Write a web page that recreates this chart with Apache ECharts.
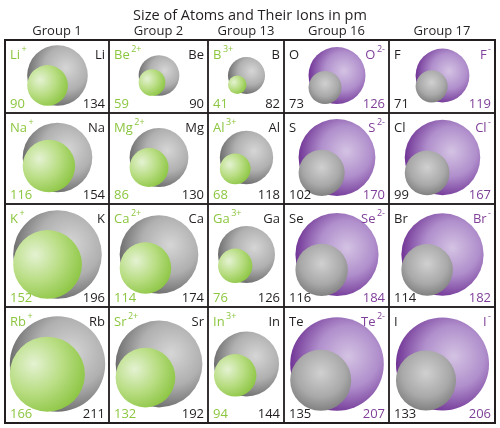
<!DOCTYPE html>
<html>
<head>
<meta charset="utf-8">
<script src="https://cdn.jsdelivr.net/npm/echarts@6/dist/echarts.min.js"></script>
<style>
html, body { margin: 0; padding: 0; background: #fff; }
#chart { width: 500px; height: 428px; }
</style>
</head>
<body>
<div id="chart"></div>
<script>
// data
var groups = ['Group 1', 'Group 2', 'Group 13', 'Group 16', 'Group 17'];
var atomSymbols = [
	['Li', 'Be', 'B', 'O', 'F'],
	['Na', 'Mg', 'Al', 'S', 'Cl'],
	['K', 'Ca', 'Ga', 'Se', 'Br'],
	['Rb', 'Sr', 'In', 'Te', 'I']
];
var atomRadii = [
	[134, 90, 82, 73, 71],
	[154, 130, 118, 102, 99],
	[196, 174, 126, 116, 114],
	[211, 192, 144, 135, 133]
];
var ionCharges = ['+', '2+', '3+', '2-', '-'];
var ionRadii = [
	[90, 59, 41, 126, 119],
	[116, 86, 68, 170, 167],
	[152, 114, 76, 184, 182],
	[166, 132, 94, 207, 206]
];

// layout (pixels)
var PX_PER_PM = 0.226;
var colPx = [104, 99, 76, 105, 106];
var rowPx = [73, 91, 103, 116];
var FONT = '"Open Sans", "DejaVu Sans", sans-serif';
var BLACK = '#231f20', GREEN = '#8cc63f', PURPLE = '#7f3f98';

function sum(a) { return a.reduce(function (s, v) { return s + v; }, 0); }
var totalW = sum(colPx) / PX_PER_PM, totalH = sum(rowPx) / PX_PER_PM;

var measureCtx = document.createElement('canvas').getContext('2d');
function textWidth(str, size) {
	measureCtx.font = size + 'px ' + FONT;
	return measureCtx.measureText(str).width;
}

// cells: [x0, y0, x1, y1, row, col] in pm units
var cells = [];
var y0 = 0;
for (var r = 0; r < rowPx.length; r++) {
	var x0 = 0;
	var h = rowPx[r] / PX_PER_PM;
	for (var c = 0; c < colPx.length; c++) {
		var w = colPx[c] / PX_PER_PM;
		cells.push([x0, y0, x0 + w, y0 + h, r, c]);
		x0 += w;
	}
	y0 += h;
}

function gradGrayBig() {
	return new echarts.graphic.RadialGradient(0.64, 0.38, 0.66, [
		{ offset: 0, color: '#d6d6d6' }, { offset: 0.55, color: '#b0b0b0' }, { offset: 1, color: '#6a6a6a' }]);
}
function gradGraySmall() {
	return new echarts.graphic.RadialGradient(0.5, 0.38, 0.66, [
		{ offset: 0, color: '#d0d0d0' }, { offset: 0.6, color: '#a9a9a9' }, { offset: 1, color: '#7a7a7a' }]);
}
function gradGreen() {
	return new echarts.graphic.RadialGradient(0.32, 0.36, 0.78, [
		{ offset: 0, color: '#e4f2d2' }, { offset: 0.5, color: '#b8dd82' }, { offset: 1, color: '#86c23a' }]);
}
function gradPurple() {
	return new echarts.graphic.RadialGradient(0.62, 0.42, 0.66, [
		{ offset: 0, color: '#d4c3e3' }, { offset: 0.5, color: '#b08fcc' }, { offset: 1, color: '#68288e' }]);
}

function label(base, sup, x, y, color, alignRight) {
	var bw = textWidth(base, 13), sw = sup ? textWidth(sup, 9) : 0;
	var bx = alignRight ? x - (sup ? sw + 1.5 : 0) - bw : x;
	var out = [{
		type: 'text',
		style: { text: base, x: bx, y: y, fill: color, font: '13px ' + FONT, textAlign: 'left', textVerticalAlign: 'middle' }
	}];
	if (sup) {
		out.push({
			type: 'text',
			style: { text: sup, x: bx + bw + 1.5, y: y - 6, fill: color, font: '9px ' + FONT, textAlign: 'left', textVerticalAlign: 'middle' }
		});
	}
	return out;
}

function renderCell(params, api) {
	var p0 = api.coord([api.value(0), api.value(1)]);
	var p1 = api.coord([api.value(2), api.value(3)]);
	var row = api.value(4), col = api.value(5);
	var atomR = atomRadii[row][col], ionR = ionRadii[row][col];
	var atomPx = api.size([atomR, 0])[0], ionPx = api.size([ionR, 0])[0];
	var ionBigger = ionR > atomR;
	var bigR = Math.max(atomPx, ionPx), smallR = Math.min(atomPx, ionPx);
	var cx = (p0[0] + p1[0]) / 2 + 0.5, cy = (p0[1] + p1[1]) / 2 - 1;
	var d = bigR - smallR;

	var children = [{
		type: 'rect',
		shape: { x: p0[0], y: p0[1], width: p1[0] - p0[0], height: p1[1] - p0[1] },
		style: { fill: 'none', stroke: BLACK, lineWidth: 1.4 }
	}, {
		type: 'circle',
		shape: { cx: cx, cy: cy, r: bigR },
		style: { fill: ionBigger ? gradPurple() : gradGrayBig() }
	}, {
		type: 'circle',
		shape: { cx: cx - d, cy: cy + d, r: smallR },
		style: { fill: ionBigger ? gradGraySmall() : gradGreen() }
	}];

	var atomSym = atomSymbols[row][col], charge = ionCharges[col];
	var topY = p0[1] + 15, botY = p1[1] - 9;
	var lx = p0[0] + 5, rx = p1[0] - 4;
	// smaller particle labelled on the left, larger on the right
	var leftTop = ionBigger ? label(atomSym, null, lx, topY, BLACK, false) : label(atomSym, charge, lx, topY, GREEN, false);
	var rightTop = ionBigger ? label(atomSym, charge, rx, topY, PURPLE, true) : label(atomSym, null, rx, topY, BLACK, true);
	children = children.concat(leftTop, rightTop);
	children.push({
		type: 'text',
		style: { text: String(ionBigger ? atomR : ionR), x: lx, y: botY, fill: ionBigger ? BLACK : GREEN, font: '13px ' + FONT, textAlign: 'left', textVerticalAlign: 'middle' }
	}, {
		type: 'text',
		style: { text: String(ionBigger ? ionR : atomR), x: rx, y: botY, fill: ionBigger ? PURPLE : BLACK, font: '13px ' + FONT, textAlign: 'right', textVerticalAlign: 'middle' }
	});
	if (row === 0) {
		children.push({
			type: 'text',
			style: { text: groups[col], x: (p0[0] + p1[0]) / 2, y: p0[1] - 9, fill: BLACK, font: '13px ' + FONT, textAlign: 'center', textVerticalAlign: 'middle' }
		});
	}
	return { type: 'group', children: children };
}

var myChart = echarts.init(document.getElementById('chart'));
var option = {
	animation: false,
	title: {
		text: 'Size of Atoms and Their Ions in pm',
		left: 'center',
		top: 3,
		textStyle: { fontFamily: FONT, fontSize: 14.5, fontWeight: 'normal', color: BLACK }
	},
	grid: { left: 5, top: 40, width: 490, height: 383, show: true, borderColor: BLACK, borderWidth: 2, backgroundColor: 'transparent' },
	xAxis: { type: 'value', min: 0, max: totalW, show: false },
	yAxis: { type: 'value', min: 0, max: totalH, inverse: true, show: false },
	series: [{
		type: 'custom',
		renderItem: renderCell,
		data: cells,
		clip: false
	}]
};
myChart.setOption(option, true);
</script>
</body>
</html>
